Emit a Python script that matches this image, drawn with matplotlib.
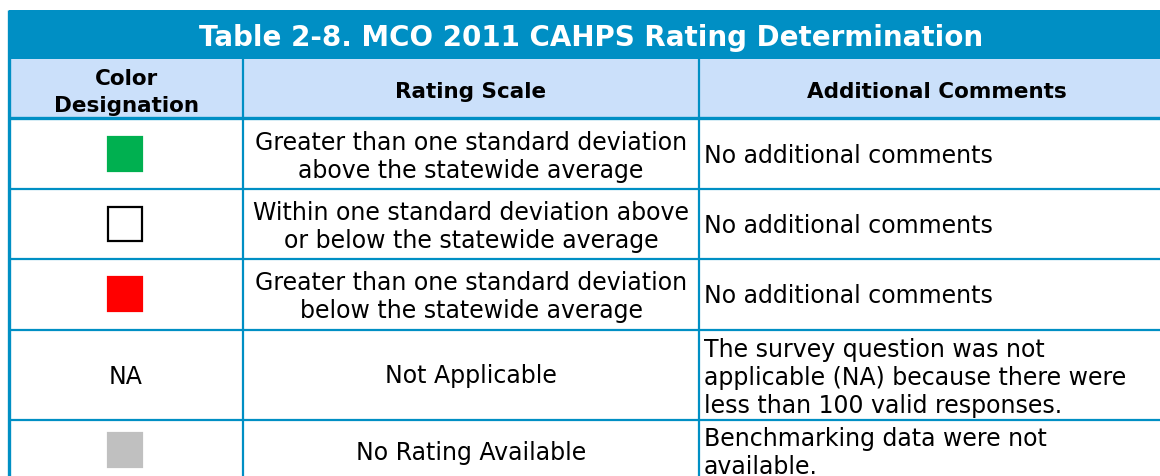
import matplotlib

matplotlib.use("Agg")
import matplotlib.pyplot as plt
from matplotlib.patches import Rectangle

TITLE = "Table 2-8. MCO 2011 CAHPS Rating Determination"
HEADERS = ["Color\nDesignation", "Rating Scale", "Additional Comments"]
SWATCHES = ["#00B050", "white", "#FF0000", None, "#C0C0C0"]
SWATCH_EDGES = ["#00B050", "black", "#FF0000", None, "#C0C0C0"]
DESIGNATION_TEXT = ["", "", "", "NA", ""]
RATING_SCALE = [
    "Greater than one standard deviation\nabove the statewide average",
    "Within one standard deviation above\nor below the statewide average",
    "Greater than one standard deviation\nbelow the statewide average",
    "Not Applicable",
    "No Rating Available",
]
COMMENTS = [
    "No additional comments",
    "No additional comments",
    "No additional comments",
    "The survey question was not\napplicable (NA) because there were\nless than 100 valid responses.",
    "Benchmarking data were not\navailable.",
]

BLUE = "#008FC4"
HEAD_BG = "#CBE0FA"
FONT = "DejaVu Sans"
BODY_FS = 17.0

W, H = 1160, 477
LEFT = 9
COL_X = [LEFT, 243, 699, 1170]
TITLE_TOP, TITLE_BOT = 11, 60
HEAD_BOT = 119
ROW_Y = [119, 190, 260, 331, 421, 490]
# vertical text centres (row 5 is cut off by the image edge)
TEXT_Y = [157, 227, 297, 376, 453]
COMMENT_Y = [156, 226, 296, 378, 453]


def main() -> None:
    fig = plt.figure(figsize=(W / 100, H / 100), dpi=100)
    ax = fig.add_axes([0, 0, 1, 1])
    ax.set_xlim(0, W)
    ax.set_ylim(H, 0)
    ax.axis("off")

    # title band
    ax.add_patch(Rectangle((LEFT, TITLE_TOP), W, TITLE_BOT - TITLE_TOP, color=BLUE, lw=0))
    ax.text(591, (TITLE_TOP + TITLE_BOT) / 2 + 2, TITLE, color="white",
            fontsize=20, fontweight="bold", family=FONT, ha="center", va="center")

    # header row
    ax.add_patch(Rectangle((LEFT, TITLE_BOT), W, HEAD_BOT - TITLE_BOT, color=HEAD_BG, lw=0))
    head_x = [126, 471, 937]
    for i, h in enumerate(HEADERS):
        ax.text(head_x[i], (TITLE_BOT + HEAD_BOT) / 2 + 3, h, fontsize=15.5, fontweight="bold",
                family=FONT, ha="center", va="center", linespacing=1.45)

    # body rows
    for r in range(len(RATING_SCALE)):
        cy = TEXT_Y[r]
        cx0 = 125
        if SWATCHES[r] is not None:
            ax.add_patch(Rectangle((cx0 - 17, cy - 19), 34, 34, facecolor=SWATCHES[r],
                                   edgecolor=SWATCH_EDGES[r], lw=1.6))
        if DESIGNATION_TEXT[r]:
            ax.text(cx0 + 1, cy + 1, DESIGNATION_TEXT[r], fontsize=BODY_FS, family=FONT,
                    ha="center", va="center")
        ax.text(471, cy, RATING_SCALE[r], fontsize=BODY_FS,
                family=FONT, ha="center", va="center", linespacing=1.2)
        ax.text(COL_X[2] + 5, COMMENT_Y[r], COMMENTS[r], fontsize=BODY_FS, family=FONT,
                ha="left", va="center", linespacing=1.2)

    # grid lines
    for y in ROW_Y[1:-1]:
        ax.plot([LEFT, W], [y, y], color=BLUE, lw=1.6, solid_capstyle="butt")
    ax.plot([LEFT, W], [HEAD_BOT, HEAD_BOT], color=BLUE, lw=2.4, solid_capstyle="butt")
    for x in COL_X[1:3]:
        ax.plot([x, x], [TITLE_BOT, H + 5], color=BLUE, lw=1.6, solid_capstyle="butt")
    ax.plot([LEFT, LEFT], [TITLE_TOP, H + 5], color=BLUE, lw=2.4, solid_capstyle="butt")

    fig.savefig("out.png", dpi=100)
    plt.close(fig)


if __name__ == "__main__":
    main()
